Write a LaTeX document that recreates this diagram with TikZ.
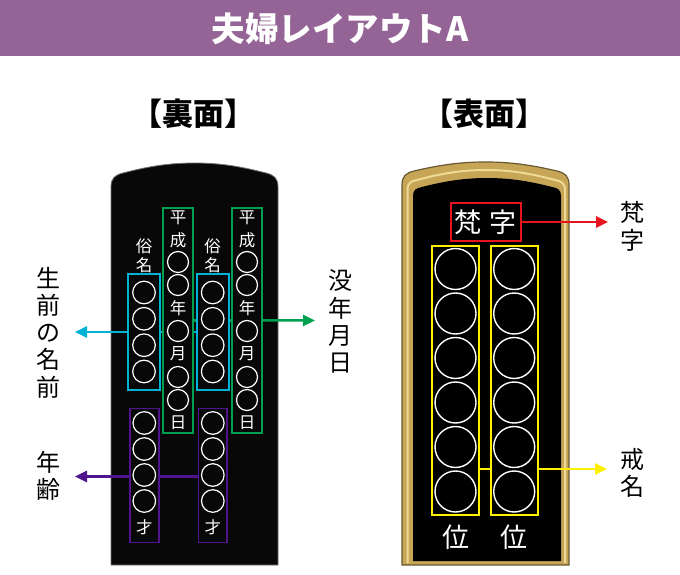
\documentclass[tikz,border=0pt]{standalone}
\usepackage{fontspec}
\setmainfont{Noto Sans CJK JP}
\usetikzlibrary{arrows.meta}
\pgfdeclarelayer{back}
\pgfdeclarelayer{mid}
\pgfsetlayers{back,mid,main}
\definecolor{hdr}{RGB}{149,100,150}
\definecolor{cy}{RGB}{0,178,214}
\definecolor{gr}{RGB}{0,160,80}
\definecolor{pu}{RGB}{80,20,140}
\definecolor{rd}{RGB}{230,20,30}
\definecolor{ye}{RGB}{255,240,0}
\definecolor{golda}{RGB}{198,166,86}
\definecolor{goldb}{RGB}{238,218,150}
\definecolor{golde}{RGB}{105,88,50}
\definecolor{tab}{RGB}{8,8,8}
\begin{document}
\begin{tikzpicture}[x=1pt,y=-1pt,
  colbox/.style={draw=#1, line width=1.9pt, fill=tab, inner sep=0pt},
  tchar/.style={text=white, inner sep=0pt, font=\fontsize{16.5}{16.5}\selectfont},
  bigchar/.style={text=white, inner sep=0pt, font=\fontsize{27}{27}\selectfont},
  ring/.style={draw=white, line width=1.2pt},
  bring/.style={draw=white, line width=1.4pt},
  lbl/.style={align=center, inner sep=0pt, font=\fontsize{24}{27.3}\selectfont},
  conn/.style={line width=2.5pt},
  arr/.style={conn, -{Triangle[length=12pt,width=11pt]}}
]
\path[use as bounding box] (0,0) rectangle (680,575);

% background and tablets
\begin{pgfonlayer}{back}
\fill[white] (0,0) rectangle (680,575);
\fill[hdr] (0,0) rectangle (680,56);
\fill[tab, draw=black!55, line width=0.8pt] (111,565) -- (111,187)
  .. controls (111,178) and (115,175) .. (123,173)
  .. controls (150,166) and (170,163) .. (194.5,163)
  .. controls (219,163) and (239,166) .. (266,173)
  .. controls (274,175) and (278,178) .. (278,187) -- (278,565) -- cycle;
\fill[golda, draw=golde, line width=1.2pt] (402,565) -- (402,185)
  .. controls (402,176) and (406,173) .. (414,171)
  .. controls (440,165) and (460,162) .. (485.5,162)
  .. controls (511,162) and (531,165) .. (557,171)
  .. controls (565,173) and (569,176) .. (569,185) -- (569,565) -- cycle;
\draw[goldb, line width=2pt] (407.5,563) -- (407.5,190)
  .. controls (407.5,183) and (411,181) .. (417,180)
  .. controls (443,173) and (463,170) .. (486,170)
  .. controls (509,170) and (529,173) .. (555,180)
  .. controls (561,181) and (565,183) .. (565,190) -- (565,563);
\fill[black] (413,561) -- (413,196)
  .. controls (413,190) and (416,188) .. (422,187)
  .. controls (445,181) and (465,178) .. (487,178)
  .. controls (509,178) and (529,181) .. (552,187)
  .. controls (558,188) and (561,190) .. (561,196) -- (561,561) -- cycle;
\end{pgfonlayer}

% header texts
\node[font=\fontsize{33.5}{33.5}\selectfont\bfseries, text=white, inner sep=0pt] (title) at (340,29) {夫婦レイアウトA};
\node[font=\fontsize{31}{31}\selectfont\bfseries, inner sep=0pt] (ura) at (193,114) {【裏面】};
\node[font=\fontsize{31}{31}\selectfont\bfseries, inner sep=0pt] (omote) at (484,114) {【表面】};

% back side boxes
\node[colbox=cy, minimum width=32pt, minimum height=116pt] (c1) at (144,332) {};
\node[colbox=cy, minimum width=32pt, minimum height=116pt] (c2) at (212.7,332) {};
\node[colbox=gr, minimum width=29.4pt, minimum height=225pt] (g1) at (178,320.4) {};
\node[colbox=gr, minimum width=29.4pt, minimum height=225pt] (g2) at (247,320.4) {};
\node[colbox=pu, minimum width=28.7pt, minimum height=134pt] (p1) at (144.3,475.5) {};
\node[colbox=pu, minimum width=28.7pt, minimum height=134pt] (p2) at (212.8,475.5) {};

% front side boxes
\node[colbox=rd, fill=black, minimum width=70pt, minimum height=38pt] (r1) at (486,222) {};
\node[colbox=ye, fill=black, minimum width=47.6pt, minimum height=269pt] (y1) at (455.5,380.5) {};
\node[colbox=ye, fill=black, minimum width=47pt, minimum height=269pt] (y2) at (514.2,380.5) {};

% labels
\node[lbl] (lname) at (48,332.5) {生\\前\\の\\名\\前};
\node[lbl] (lage) at (48,475.5) {年\\齢};
\node[lbl] (ldate) at (340,321.5) {没\\年\\月\\日};
\node[lbl] (lbon) at (632,226.5) {梵\\字};
\node[lbl] (lkai) at (632,473) {戒\\名};

% arrow ends
\coordinate (ct) at (75,332);
\coordinate (pt) at (75,476.5);
\coordinate (gt) at (315,320.5);
\coordinate (rt) at (608,222);
\coordinate (yt) at (607,469);

% connectors
\begin{pgfonlayer}{mid}
\draw[conn, cy] (c1.east) -- (c2.west);
\draw[arr, cy] (c1.west) -- (ct);
\draw[conn, gr] (g1.east) -- (g2.west);
\draw[arr, gr] (g2.east) -- (gt);
\draw[conn, pu] (p1.east |- pt) -- (p2.west |- pt);
\draw[arr, pu] (p1.west |- pt) -- (pt);
\draw[arr, rd] (r1.east) -- (rt);
\draw[conn, ye] (y1.east |- yt) -- (y2.west |- yt);
\draw[arr, ye] (y2.east |- yt) -- (yt);
\end{pgfonlayer}

% back side contents
\foreach \n/\cx in {1/144, 2/212.7} {
  \node[tchar] (zoku\n) at (\cx,246) {俗};
  \node[tchar] (mei\n) at (\cx,265) {名};
  \foreach \cyy in {292.5,318.8,345.2,371.5} { \draw[ring] (\cx,\cyy) circle[radius=11.3]; }
}
\foreach \n/\gx in {1/178, 2/247} {
  \node[tchar] (hei\n) at (\gx,218) {平};
  \node[tchar] (sei\n) at (\gx,240) {成};
  \node[tchar] (nen\n) at (\gx,308) {年};
  \node[tchar] (tsuki\n) at (\gx,354) {月};
  \node[tchar] (hi\n) at (\gx,423) {日};
  \foreach \gy in {262,285,331,377,400} { \draw[ring] (\gx,\gy) circle[radius=10.5]; }
}
\foreach \n/\px in {1/144.3, 2/212.8} {
  \node[tchar] (sai\n) at (\px,527) {才};
  \foreach \py in {423,449,475,501} { \draw[ring] (\px,\py) circle[radius=11.3]; }
}

% front side contents
\node[bigchar] (bon) at (468,222) {梵};
\node[bigchar] (ji) at (503,222) {字};
\foreach \n/\fx in {1/455.5, 2/514.2} {
  \foreach \fy in {269,313.5,358,402.5,447,491.5} { \draw[bring] (\fx,\fy) circle[radius=20.5]; }
  \node[bigchar] (i\n) at (\fx,537) {位};
}
\end{tikzpicture}
\end{document}
